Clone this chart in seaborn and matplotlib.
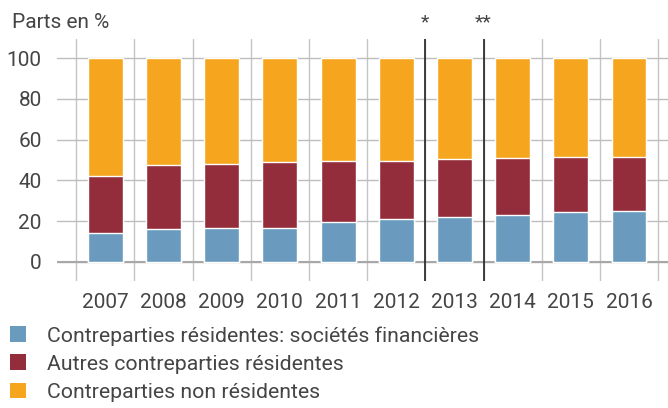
import matplotlib
matplotlib.use('Agg')
import matplotlib.pyplot as plt
import numpy as np
import pandas as pd
import seaborn as sns
from matplotlib.patches import Patch
from matplotlib.ticker import FixedLocator

# Données (parts en %)
annees = ['2007', '2008', '2009', '2010', '2011', '2012', '2013', '2014', '2015', '2016']
financieres = [14.1, 16.1, 16.6, 16.6, 19.5, 21.0, 22.0, 23.0, 24.4, 24.9]
autres_residentes = [28.0, 31.4, 31.4, 32.4, 30.0, 28.5, 28.5, 28.0, 27.1, 26.6]
non_residentes = [57.9, 52.5, 52.0, 51.0, 50.5, 50.5, 49.5, 49.0, 48.5, 48.5]
labels = ['Contreparties résidentes: sociétés financières',
          'Autres contreparties résidentes',
          'Contreparties non résidentes']
couleurs = ['#6a9bbf', '#932d3c', '#f6a61e']

df = pd.DataFrame({'annee': annees, 'fin': financieres,
                   'autres': autres_residentes, 'non_res': non_residentes})
df['cum1'] = df['fin']
df['cum2'] = df['fin'] + df['autres']
df['cum3'] = df['cum2'] + df['non_res']

sns.set_style('white')
plt.rcParams['font.family'] = ['Roboto', 'DejaVu Sans']
txt = '#454545'

fig = plt.figure(figsize=(6.68, 4.08), dpi=100)
ax = fig.add_axes([57 / 668, 1 - 281 / 408, 611 / 668, 242 / 408])

# Barres empilées : on dessine les cumuls du haut vers le bas
for col, c in zip(['cum3', 'cum2', 'cum1'], couleurs[::-1]):
    sns.barplot(data=df, x='annee', y=col, color=c, width=0.6,
                saturation=1, ax=ax, zorder=3, order=annees)

ax.set_xlim(-0.83, 9.67)
ax.set_ylim(-9.5, 109.5)
ax.set_yticks([0, 20, 40, 60, 80, 100])
ax.xaxis.set_minor_locator(FixedLocator(np.arange(-0.5, 10, 1)))
ax.grid(axis='y', which='major', color='#bdbdbd', lw=1, zorder=0)
ax.grid(axis='x', which='minor', color='#c4c4c4', lw=1, zorder=0)
ax.grid(axis='x', which='major', visible=False)
ax.axhline(0, color='#a8a8a8', lw=1.5, zorder=1)
for xv in [5.5, 6.5]:
    ax.axvline(xv, color='#222222', lw=1.2, zorder=4)
for s in ax.spines.values():
    s.set_visible(False)
ax.tick_params(axis='both', which='both', length=0, labelsize=15, colors=txt)
ax.tick_params(axis='y', pad=11)
ax.tick_params(axis='x', pad=9)
ax.set_xlabel('')
ax.set_ylabel('')

fig.text(12 / 668, 1 - 23 / 408, 'Parts en %', fontsize=15, color=txt, va='center', ha='left')
fig.text(425 / 668, 1 - 22 / 408, '*', fontsize=14, color=txt, va='center', ha='center')
fig.text(483 / 668, 1 - 22 / 408, '**', fontsize=14, color=txt, va='center', ha='center')

handles = [Patch(facecolor=c, edgecolor='none') for c in couleurs]
fig.legend(handles, labels, loc='upper left', bbox_to_anchor=(10 / 668, 1 - 326 / 408),
           frameon=False, fontsize=15.3, handlelength=0.75, handleheight=0.75,
           handletextpad=1.0, labelspacing=0.42, borderpad=0, borderaxespad=0,
           labelcolor=txt)

fig.savefig('out.png', dpi=100)
